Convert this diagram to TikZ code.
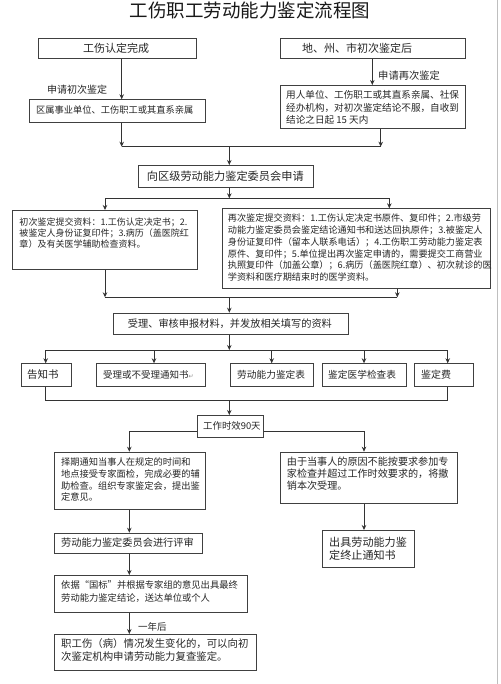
\documentclass[tikz,border=0pt]{standalone}
\usepackage{fontspec}
\setmainfont{Noto Sans CJK SC}
\newfontfamily\symfont{DejaVu Sans}
\usetikzlibrary{arrows.meta}
\newcommand{\fs}[2]{\fontsize{#1}{#2}\selectfont}
\begin{document}
\begin{tikzpicture}[x=1pt,y=-1pt,
  box/.style={draw=black!75, line width=0.9pt, anchor=north west, inner sep=0pt},
  txt/.style={inner sep=0pt, text=black!85, anchor=west},
  mtxt/.style={inner sep=0pt, text=black!85, anchor=north west, align=left},
  conn/.style={draw=black!80, line width=0.8pt},
  arr/.style={conn, -{Stealth[length=5pt,width=4.5pt]}}]
\useasboundingbox (0,0) rectangle (500,684);
\fill[white] (0,0) rectangle (500,684);
\draw[black!25, line width=1pt] (497,0) -- (497,684);

% title
\node[inner sep=0pt, text=black!90, font=\fs{18.5}{20}] (title) at (250,10.5) {工伤职工劳动能力鉴定流程图};

% boxes
\node[box, minimum width=158.3pt, minimum height=20.6pt] (b1) at (37.7,37.7) {};
\node[box, minimum width=185pt, minimum height=20.6pt] (b2) at (280,37.7) {};
\node[box, minimum width=176pt, minimum height=22.4pt] (b3) at (29,99.3) {};
\node[box, minimum width=185pt, minimum height=43.3pt] (b4) at (280,85) {};
\node[box, minimum width=175.3pt, minimum height=21.7pt] (b5) at (137.7,165) {};
\node[box, minimum width=184.4pt, minimum height=59.3pt] (b6) at (12.3,210) {};
\node[box, minimum width=268.3pt, minimum height=79.4pt] (b7) at (221.7,208.3) {};
\node[box, minimum width=235pt, minimum height=21.6pt] (b8) at (112.7,312.7) {};
\node[box, minimum width=50pt, minimum height=22.7pt] (b9) at (20.7,363.3) {};
\node[box, minimum width=109pt, minimum height=22.7pt] (b10) at (96,363.3) {};
\node[box, minimum width=83.3pt, minimum height=22.7pt] (b11) at (230,363.3) {};
\node[box, minimum width=84.3pt, minimum height=22.7pt] (b12) at (321.7,363.3) {};
\node[box, minimum width=58.4pt, minimum height=22.7pt] (b13) at (414.3,363.3) {};
\node[box, minimum width=66.6pt, minimum height=21.7pt] (b14) at (196.7,415) {};
\node[box, minimum width=150.7pt, minimum height=57.6pt] (b15) at (54.3,451.7) {};
\node[box, minimum width=176.7pt, minimum height=51pt] (b16) at (280,451.7) {};
\node[box, minimum width=148pt, minimum height=20pt] (b17) at (54.3,532.7) {};
\node[box, minimum width=92.6pt, minimum height=37.3pt] (b18) at (321.7,530) {};
\node[box, minimum width=192.4pt, minimum height=36.7pt] (b19) at (54.3,575) {};
\node[box, minimum width=201.4pt, minimum height=36pt] (b20) at (54.3,634) {};

% texts
\node[txt, font=\fs{11}{13}] (t1) at (83,48) {工伤认定完成};
\node[txt, font=\fs{11}{13}] (t2) at (302,48) {地、州、市初次鉴定后};
\node[txt, font=\fs{10}{12}] (l1) at (47,90) {申请初次鉴定};
\node[txt, font=\fs{10.3}{12}] (l2) at (378,76) {申请再次鉴定};
\node[txt, font=\fs{9.25}{11}] (t3) at (36,110) {区属事业单位、工伤职工或其直系亲属};
\node[mtxt, font=\fs{9.6}{12.5}] (t4) at (286,90.5) {用人单位、工伤职工或其直系亲属、社保\\经办机构，对初次鉴定结论不服，自收到\\结论之日起 15 天内};
\node[txt, font=\fs{11.2}{13}] (t5) at (146.7,176) {向区级劳动能力鉴定委员会申请};
\node[mtxt, font=\fs{9}{11.3}] (t6) at (19.3,217.5) {初次鉴定提交资料：1.工伤认定决定书；2.\\被鉴定人身份证复印件；3.病历（盖医院红\\章）及有关医学辅助检查资料。};
\node[mtxt, font=\fs{9.15}{11.68}] (t7) at (227.7,214) {再次鉴定提交资料：1.工伤认定决定书原件、复印件；2.市级劳\\动能力鉴定委员会鉴定结论通知书和送达回执原件；3.被鉴定人\\身份证复印件（留本人联系电话）；4.工伤职工劳动能力鉴定表\\原件、复印件；5.单位提出再次鉴定申请的，需要提交工商营业\\执照复印件（加盖公章）；6.病历（盖医院红章）、初次就诊的医\\学资料和医疗期结束时的医学资料。};
\node[txt, font=\fs{10.2}{12}] (t8) at (127.7,323.3) {受理、审核申报材料，并发放相关填写的资料};
\node[txt, font=\fs{10.5}{12}] (t9) at (27,375) {告知书};
\node[txt, font=\fs{9.5}{12}] (t10) at (103,375) {受理或不受理通知书\textcolor{black!45}{\symfont\fs{6}{6}↵}};
\node[txt, font=\fs{9.7}{12}] (t11) at (237,375) {劳动能力鉴定表};
\node[txt, font=\fs{9.7}{12}] (t12) at (328,375) {鉴定医学检查表};
\node[txt, font=\fs{10}{12}] (t13) at (421,375) {鉴定费};
\node[txt, font=\fs{9.4}{12}] (t14) at (203,426) {工作时效90天};
\node[mtxt, font=\fs{9.25}{11.87}] (t15) at (61,457.3) {择期通知当事人在规定的时间和\\地点接受专家面检，完成必要的辅\\助检查。组织专家鉴定会，提出鉴\\定意见。};
\node[mtxt, font=\fs{10.1}{11.65}] (t16) at (286.7,457) {由于当事人的原因不能按要求参加专\\家检查并超过工作时效要求的，将撤\\销本次受理。};
\node[txt, font=\fs{10.2}{12}] (t17) at (61,542.3) {劳动能力鉴定委员会进行评审};
\node[mtxt, font=\fs{11.1}{13.3}] (t18) at (329,536.5) {出具劳动能力鉴\\定终止通知书};
\node[mtxt, font=\fs{9.3}{12.3}] (t19) at (61,580.6) {依据“国标”并根据专家组的意见出具最终\\劳动能力鉴定结论，送达单位或个人};
\node[mtxt, font=\fs{10.4}{13.4}] (t20) at (61,638.4) {职工伤（病）情况发生变化的，可以向初\\次鉴定机构申请劳动能力复查鉴定。};
\node[txt, font=\fs{9.5}{12}] (l3) at (138,626.7) {一年后};

% junction coordinates
\coordinate (j1L) at (121.7,146.7);
\coordinate (j1R) at (380.7,146.7);
\coordinate (j1C) at (229.3,146.7);
\coordinate (j0R) at (372.3,70);
\coordinate (j2L) at (105,198.3);
\coordinate (j2R) at (389.3,198.3);
\coordinate (j2C) at (229.3,198.3);
\coordinate (j3L) at (105,297.3);
\coordinate (j3R) at (397.3,297.3);
\coordinate (j3C) at (229.3,297.3);
\coordinate (j4C) at (229.3,350);
\coordinate (j4a) at (45.7,350);
\coordinate (j4b) at (154,350);
\coordinate (j4c) at (271.7,350);
\coordinate (j4d) at (364,350);
\coordinate (j4e) at (447.7,350);
\coordinate (j5L) at (45.7,400);
\coordinate (j5R) at (447.7,400);
\coordinate (j5C) at (229.3,400);
\coordinate (j6L) at (129.3,431);
\coordinate (j6R) at (364,431);

% connectors
\draw[arr] (b1.south -| j1L) -- (b3.north -| j1L);
\draw[arr] (b2.south -| j0R) -- (b4.north -| j0R);
\draw[arr] (b3.south -| j1L) -- (j1L);
\draw[arr] (b4.south -| j1R) -- (j1R);
\draw[conn] (j1L) -- (j1R);
\draw[arr] (j1C) -- (b5.north -| j1C);
\draw[arr] (b5.south -| j2C) -- (j2C);
\draw[conn] (j2L) -- (j2R);
\draw[arr] (j2L) -- (b6.north -| j2L);
\draw[arr] (j2R) -- (b7.north -| j2R);
\draw[arr] (b6.south -| j3L) -- (j3L);
\draw[arr] (b7.south -| j3R) -- (j3R);
\draw[conn] (j3L) -- (j3R);
\draw[arr] (j3C) -- (b8.north -| j3C);
\draw[arr] (b8.south -| j4C) -- (j4C);
\draw[conn] (j4a) -- (j4e);
\draw[arr] (j4a) -- (b9.north -| j4a);
\draw[arr] (j4b) -- (b10.north -| j4b);
\draw[arr] (j4c) -- (b11.north -| j4c);
\draw[arr] (j4d) -- (b12.north -| j4d);
\draw[arr] (j4e) -- (b13.north -| j4e);
\draw[conn] (b9.south -| j5L) -- (j5L) -- (j5R) -- (b13.south -| j5R);
\draw[arr] (j5C) -- (b14.north -| j5C);
\draw[arr] (b14.west |- j6L) -- (j6L) -- (b15.north -| j6L);
\draw[arr] (b14.east |- j6R) -- (j6R) -- (b16.north -| j6R);
\draw[arr] (b15.south -| j6L) -- (b17.north -| j6L);
\draw[arr] (b17.south -| j6L) -- (b19.north -| j6L);
\draw[arr] (b19.south -| j6L) -- (b20.north -| j6L);
\draw[arr] (b16.south -| j6R) -- (b18.north -| j6R);
\end{tikzpicture}
\end{document}
